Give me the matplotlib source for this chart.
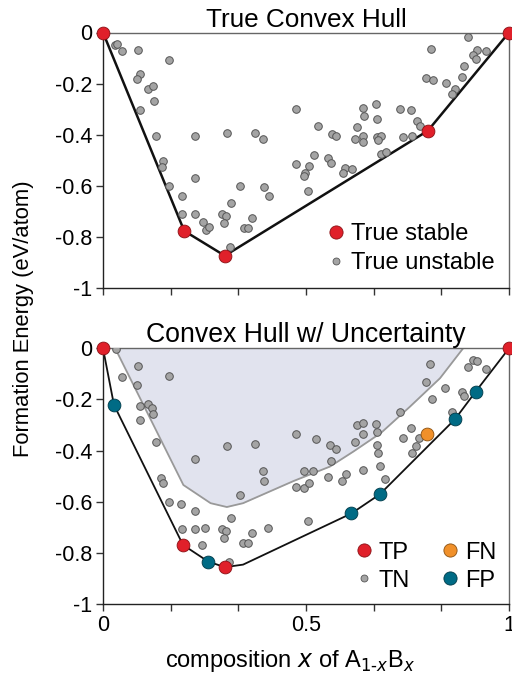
import matplotlib
matplotlib.use("Agg")
import matplotlib.pyplot as plt
from matplotlib.lines import Line2D
import numpy as np

plt.rcParams['font.family'] = ['Liberation Sans', 'DejaVu Sans']

# ---------------- Top panel data ----------------
stable_x = [0.0, 0.2, 0.3, 0.8, 1.0]
stable_e = [0.0, -0.775, -0.872, -0.384, 0.0]

unstable_x = [0.029, 0.034, 0.047, 0.087, 0.162, 0.091, 0.084, 0.112, 0.122, 0.125,
              0.092, 0.131, 0.226, 0.305, 0.375, 0.393, 0.475, 0.149, 0.145, 0.163,
              0.226, 0.194, 0.194, 0.226, 0.246, 0.253, 0.260, 0.293, 0.304, 0.298,
              0.315, 0.337, 0.312, 0.347, 0.357, 0.366, 0.397, 0.408, 0.475, 0.498,
              0.494, 0.507, 0.505,
              0.898, 0.807, 0.920, 0.911, 0.918, 0.943, 0.890, 0.884, 0.796, 0.813,
              0.844, 0.868, 0.860, 0.640, 0.672, 0.732, 0.759, 0.643, 0.674, 0.773,
              0.781, 0.530, 0.626, 0.565, 0.574, 0.621, 0.641, 0.641, 0.674, 0.684,
              0.678, 0.740, 0.761, 0.520, 0.555, 0.562, 0.685, 0.696, 0.597, 0.613,
              0.590]
unstable_e = [-0.050, -0.044, -0.074, -0.070, -0.109, -0.161, -0.182, -0.220, -0.208, -0.268,
              -0.301, -0.405, -0.405, -0.392, -0.393, -0.415, -0.298, -0.501, -0.527, -0.600,
              -0.570, -0.637, -0.709, -0.709, -0.741, -0.772, -0.759, -0.709, -0.715, -0.745,
              -0.665, -0.600, -0.838, -0.763, -0.763, -0.724, -0.604, -0.637, -0.514, -0.547,
              -0.561, -0.520, -0.618,
              -0.016, -0.065, -0.069, -0.086, -0.104, -0.074, -0.130, -0.174, -0.178, -0.184,
              -0.197, -0.221, -0.240, -0.293, -0.280, -0.297, -0.302, -0.325, -0.338, -0.345,
              -0.365, -0.367, -0.368, -0.397, -0.406, -0.415, -0.406, -0.428, -0.409, -0.405,
              -0.419, -0.410, -0.404, -0.480, -0.492, -0.508, -0.475, -0.467, -0.531, -0.532,
              -0.549]

# ---------------- Bottom panel data ----------------
tp_x = [0.0, 0.197, 0.300, 1.0]
tp_e = [0.0, -0.768, -0.855, 0.0]
fp_x = [0.027, 0.259, 0.612, 0.682, 0.867, 0.918]
fp_e = [-0.221, -0.833, -0.645, -0.570, -0.277, -0.169]
fn_x = [0.798]
fn_e = [-0.336]

hull2_x = [0.0, 0.027, 0.197, 0.259, 0.300, 0.345, 0.612, 0.682, 0.867, 0.918, 1.0]
hull2_e = [0.0, -0.221, -0.768, -0.833, -0.855, -0.845, -0.645, -0.570, -0.277, -0.169, 0.0]

unc_x = [0.03, 0.198, 0.265, 0.305, 0.345, 0.47, 0.559, 0.617, 0.685, 0.756, 0.83, 0.887]
unc_e = [0.0, -0.534, -0.605, -0.620, -0.605, -0.518, -0.462, -0.403, -0.330, -0.228, -0.117, 0.0]

tn_x = [0.032, 0.046, 0.087, 0.162, 0.084, 0.091, 0.112, 0.121, 0.124, 0.091,
        0.131, 0.226, 0.305, 0.375, 0.393, 0.396, 0.475, 0.143, 0.149, 0.163,
        0.193, 0.226, 0.337, 0.194, 0.226, 0.252, 0.245, 0.293, 0.304, 0.297,
        0.315, 0.311, 0.346, 0.357, 0.366, 0.407, 0.475, 0.494, 0.495, 0.507,
        0.505,
        0.806, 0.898, 0.911, 0.920, 0.943, 0.796, 0.843, 0.884, 0.890, 0.811,
        0.860, 0.731, 0.626, 0.641, 0.672, 0.641, 0.674, 0.759, 0.524, 0.560,
        0.573, 0.621, 0.674, 0.677, 0.739, 0.779, 0.772, 0.760, 0.562, 0.683,
        0.518, 0.553, 0.598, 0.640, 0.589, 0.695]
tn_e = [-0.004, -0.111, -0.068, -0.107, -0.143, -0.225, -0.218, -0.233, -0.258, -0.281,
        -0.366, -0.432, -0.382, -0.373, -0.480, -0.517, -0.335, -0.508, -0.526, -0.599,
        -0.607, -0.634, -0.572, -0.707, -0.707, -0.703, -0.768, -0.707, -0.712, -0.742,
        -0.664, -0.836, -0.761, -0.761, -0.721, -0.703, -0.542, -0.480, -0.545, -0.527,
        -0.673,
        -0.063, -0.072, -0.047, -0.048, -0.082, -0.130, -0.156, -0.172, -0.186, -0.199,
        -0.248, -0.248, -0.300, -0.293, -0.297, -0.334, -0.327, -0.310, -0.355, -0.378,
        -0.395, -0.366, -0.379, -0.408, -0.352, -0.352, -0.382, -0.410, -0.439, -0.461,
        -0.478, -0.502, -0.492, -0.475, -0.518, -0.512]

yticks = [0, -0.2, -0.4, -0.6, -0.8, -1]
ytick_labels = ['0', '-0.2', '-0.4', '-0.6', '-0.8', '-1']
xticks_major = [0, 0.5, 1]
xtick_labels = ['0', '0.5', '1']
xticks_minor = [1/6, 2/6, 4/6, 5/6]

RED = '#E0202A'
TEAL = '#006B85'
ORANGE = '#F0902A'
GREY = '#A4A4A4'
GREY_EDGE = '#555555'

fig = plt.figure(figsize=(5.12, 6.74), dpi=100)
ax1 = fig.add_axes([103/512, 1-288.5/674, 406/512, 256/674])
ax2 = fig.add_axes([103/512, 1-604.3/674, 406/512, 256/674])

for ax in (ax1, ax2):
    ax.set_xlim(0, 1)
    ax.set_ylim(-1, 0)
    ax.set_yticks(yticks)
    ax.set_yticklabels(ytick_labels, fontsize=15.5)
    ax.set_xticks(xticks_major)
    ax.set_xticks(xticks_minor, minor=True)
    ax.tick_params(axis='both', which='both', direction='out', length=5, width=1,
                   color='#333333', pad=3)
    for s in ('left', 'bottom'):
        ax.spines[s].set_color('#222222')
        ax.spines[s].set_linewidth(1.0)
    for s in ('top', 'right'):
        ax.spines[s].set_color('#666666')
        ax.spines[s].set_linewidth(1.0)

ax1.set_xticklabels([])
ax2.set_xticklabels(xtick_labels, fontsize=15.5)

# Top panel
ax1.plot(stable_x, stable_e, color='#111111', lw=1.8, zorder=2)
ax1.scatter(unstable_x, unstable_e, s=30, c=GREY, edgecolors=GREY_EDGE, linewidths=0.7, zorder=3)
ax1.scatter(stable_x, stable_e, s=85, c=RED, edgecolors='#8a1015', linewidths=0.6, zorder=4, clip_on=False)
ax1.set_title('True Convex Hull', fontsize=18.8, pad=4)

leg1_handles = [
    Line2D([], [], ls='none', marker='o', ms=9.5, mfc=RED, mec='#8a1015', mew=0.6),
    Line2D([], [], ls='none', marker='o', ms=5, mfc=GREY, mec=GREY_EDGE, mew=0.6),
]
ax1.legend(leg1_handles, ['True stable', 'True unstable'], loc='lower right',
           bbox_to_anchor=(1.0, 0.0), frameon=False, fontsize=17, handlelength=0.8,
           handletextpad=0.25, labelspacing=0.3, borderaxespad=0.2)

# Bottom panel
ax2.fill_between(unc_x, unc_e, 0, color='#E1E3EE', zorder=1, lw=0)
ax2.plot(unc_x, unc_e, color='#999999', lw=1.3, zorder=1.5)
ax2.plot(hull2_x, hull2_e, color='#111111', lw=1.3, zorder=2)
ax2.scatter(tn_x, tn_e, s=30, c=GREY, edgecolors=GREY_EDGE, linewidths=0.7, zorder=3)
ax2.scatter(fp_x, fp_e, s=85, c=TEAL, edgecolors='#003a48', linewidths=0.6, zorder=4, clip_on=False)
ax2.scatter(fn_x, fn_e, s=85, c=ORANGE, edgecolors='#8a5010', linewidths=0.6, zorder=4)
ax2.scatter(tp_x, tp_e, s=85, c=RED, edgecolors='#8a1015', linewidths=0.6, zorder=4, clip_on=False)
ax2.set_title('Convex Hull w/ Uncertainty', fontsize=19.2, pad=2.8)

leg2_handles = [
    Line2D([], [], ls='none', marker='o', ms=9.5, mfc=RED, mec='#8a1015', mew=0.6),
    Line2D([], [], ls='none', marker='o', ms=5, mfc=GREY, mec=GREY_EDGE, mew=0.6),
    Line2D([], [], ls='none', marker='o', ms=9.5, mfc=ORANGE, mec='#8a5010', mew=0.6),
    Line2D([], [], ls='none', marker='o', ms=9.5, mfc=TEAL, mec='#003a48', mew=0.6),
]
ax2.legend(leg2_handles, ['TP', 'TN', 'FN', 'FP'], loc='lower right', ncol=2,
           bbox_to_anchor=(1.0, 0.0), frameon=False, fontsize=17, handlelength=0.8,
           handletextpad=0.25, labelspacing=0.25, columnspacing=1.27, borderaxespad=0.14)

ax2.set_xlabel(r'composition $\it{x}$ of A$_{1\text{-}\it{x}}$B$_{\it{x}}$', fontsize=17, labelpad=6)
ax2.xaxis.set_label_coords((290-103)/406, -0.17)
fig.text(0.045, (1-604.3/674 + 1-33/674)/2, 'Formation Energy (eV/atom)', rotation=90,
         fontsize=15.8, ha='center', va='center')

fig.savefig('out.png', dpi=100)
